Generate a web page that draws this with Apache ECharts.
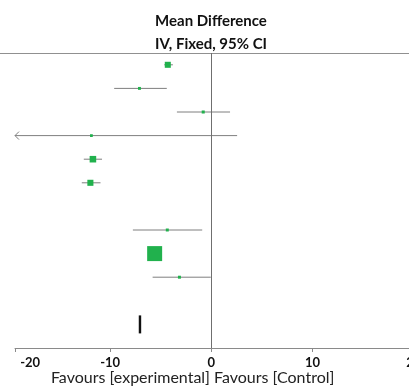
<!DOCTYPE html>
<html>
<head>
<meta charset="utf-8">
<script src="https://cdn.jsdelivr.net/npm/echarts@6/dist/echarts.min.js"></script>
<style>
    html, body { margin: 0; padding: 0; background: #fff; }
    #chart { width: 409px; height: 391px; }
</style>
</head>
<body>
<div id="chart"></div>
<script>
// study rows (row number on the plot), mean difference and 95% CI
const rows = [1, 2, 3, 4, 5, 6, 8, 9, 10];
const meanDiff = [-4.3, -7.1, -0.8, -11.85, -11.7, -11.95, -4.35, -5.6, -3.15];
const ciLow = [-4.65, -9.6, -3.4, -26, -12.6, -12.8, -7.75, -6.1, -5.8];
const ciHigh = [-3.8, -4.4, 1.85, 2.55, -10.8, -10.95, -0.9, -5.1, -0.05];
const weights = [9.5, 2.2, 2.4, 2.0, 11.2, 9.6, 2.3, 58.5, 2.3];

// pooled estimate
const totalRow = 12;
const totalMean = -7.05;
const totalLow = -7.17;
const totalHigh = -6.93;

const tickValues = [-20, -10, 0, 10, 20];

const xMin = -19.4;
const xMax = 20;
const green = '#21b14d';
const grey = '#7f7f7f';

const myChart = echarts.init(document.getElementById('chart'));

const ciData = rows.map((r, i) => [ciLow[i], ciHigh[i], r]);
const pointData = rows.map((r, i) => [meanDiff[i], r, weights[i]]);

const option = {
    animation: false,
    grid: {
        left: 15,
        top: 53,
        width: 398.7,
        height: 295,
        containLabel: false,
        outerBoundsMode: 'none'
    },
    xAxis: {
        type: 'value',
        min: xMin,
        max: xMax,
        splitLine: { show: false },
        axisLine: { lineStyle: { color: '#8a8a8a', width: 1 } },
        axisTick: {
            customValues: [xMin].concat(tickValues.slice(1)),
            length: 4,
            lineStyle: { color: '#8a8a8a' }
        },
        // first label sits a bit inside the plot edge, like the original
        axisLabel: {
            customValues: tickValues.map(v => Math.max(v, -17.9)),
            formatter: v => String(Math.round(v / 10) * 10),
            fontFamily: 'Lato',
            fontWeight: 'bold',
            fontSize: 13,
            color: '#111',
            margin: 8
        }
    },
    yAxis: {
        type: 'value',
        min: 0.5,
        max: 13,
        inverse: true,
        show: false
    },
    graphic: [
        {
            type: 'line',
            shape: { x1: 0, y1: 53.5, x2: 409, y2: 53.5 },
            style: { stroke: '#909090', lineWidth: 1 }
        },
        {
            type: 'text', x: 211, y: 21,
            style: { text: 'Mean Difference', font: 'bold 15px Lato', fill: '#111', align: 'center', verticalAlign: 'middle' }
        },
        {
            type: 'text', x: 211, y: 44.5,
            style: { text: 'IV, Fixed, 95% CI', font: 'bold 15px Lato', fill: '#111', align: 'center', verticalAlign: 'middle' }
        },
        {
            type: 'text', x: 210, y: 378,
            style: { text: 'Favours [experimental]', font: '16px Lato', fill: '#222', align: 'right', verticalAlign: 'middle' }
        },
        {
            type: 'text', x: 214, y: 378,
            style: { text: 'Favours [Control]', font: '16px Lato', fill: '#222', align: 'left', verticalAlign: 'middle' }
        }
    ],
    series: [
        {
            // confidence interval whiskers
            type: 'custom',
            data: ciData,
            z: 2,
            renderItem: (params, api) => {
                const lo = api.value(0);
                const hi = api.value(1);
                const r = api.value(2);
                const a = api.coord([Math.max(lo, xMin), r]);
                const b = api.coord([Math.min(hi, xMax), r]);
                const children = [{
                    type: 'line',
                    shape: { x1: a[0], y1: a[1], x2: b[0], y2: b[1] },
                    style: { stroke: grey, lineWidth: 1 }
                }];
                // arrow when the interval runs off the axis
                if (lo < xMin) {
                    children.push({
                        type: 'polyline',
                        shape: { points: [[a[0] + 4, a[1] - 4], [a[0], a[1]], [a[0] + 4, a[1] + 4]] },
                        style: { stroke: grey, fill: null, lineWidth: 1 }
                    });
                }
                return { type: 'group', children };
            }
        },
        {
            // study estimates, box size by weight
            type: 'scatter',
            data: pointData,
            z: 3,
            symbol: 'rect',
            symbolSize: d => 1.96 * Math.sqrt(d[2]),
            itemStyle: { color: green, opacity: 1 },
            markLine: {
                silent: true,
                symbol: 'none',
                label: { show: false },
                lineStyle: { color: '#6f6f6f', width: 1, type: 'solid' },
                data: [{ xAxis: 0 }]
            }
        },
        {
            // pooled diamond
            type: 'custom',
            data: [[totalLow, totalHigh, totalRow, totalMean]],
            z: 3,
            renderItem: (params, api) => {
                const r = api.value(2);
                const l = api.coord([api.value(0), r]);
                const h = api.coord([api.value(1), r]);
                return {
                    type: 'polygon',
                    shape: { points: [[l[0], l[1] - 9], [h[0], h[1] - 9], [h[0], h[1] + 9], [l[0], l[1] + 9]] },
                    style: { fill: '#111', lineWidth: 0 }
                };
            }
        }
    ]
};

myChart.setOption(option);
window.addEventListener('resize', function () {
    myChart.resize();
});
</script>
</body>
</html>
